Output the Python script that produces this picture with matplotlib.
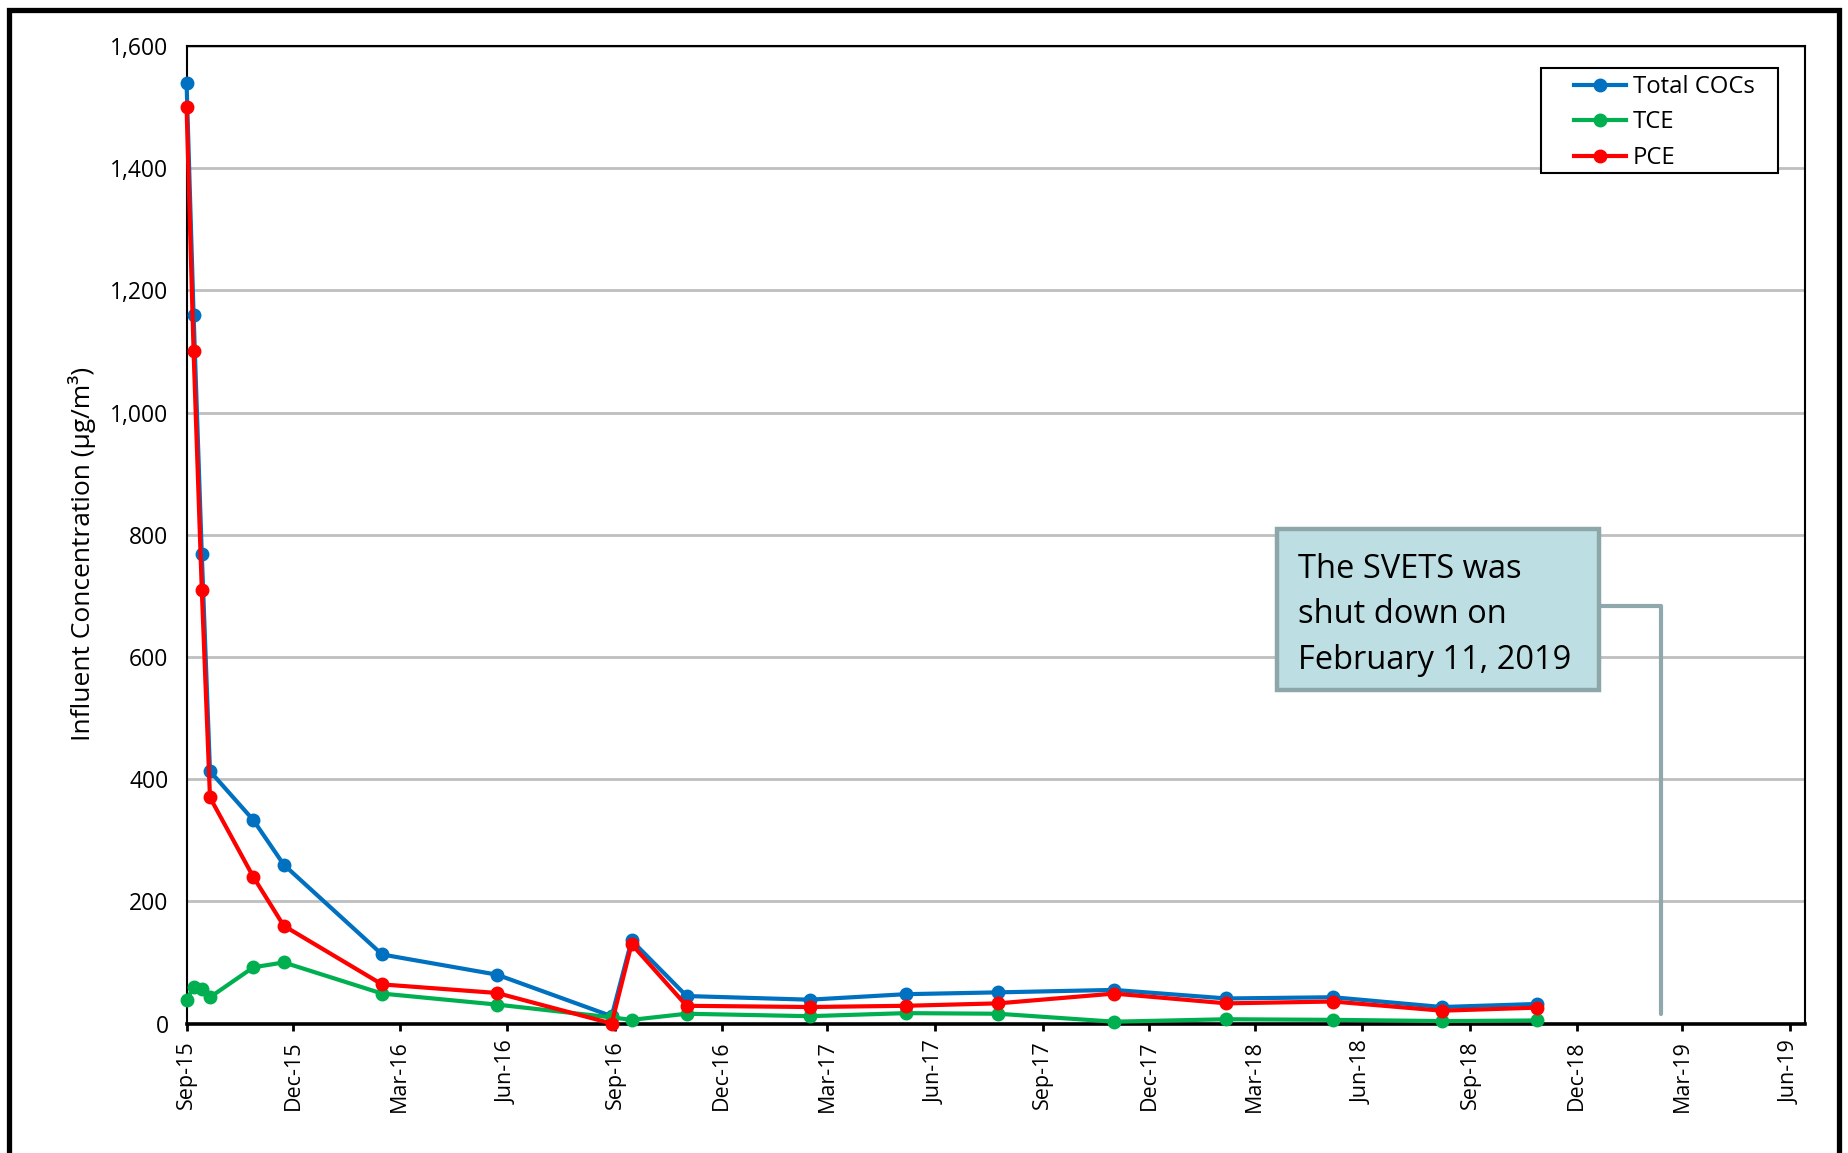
import pandas as pd
import matplotlib
matplotlib.use('Agg')
import matplotlib.pyplot as plt
import matplotlib.dates as mdates
import matplotlib.patches as patches
from matplotlib.ticker import FuncFormatter

# Influent sampling results, ug/m3
sample_dates = ['2015-09-01', '2015-09-07', '2015-09-14', '2015-09-21', '2015-10-28',
                '2015-11-23', '2016-02-15', '2016-05-23', '2016-08-29', '2016-09-15',
                '2016-11-01', '2017-02-14', '2017-05-07', '2017-07-25', '2017-11-01',
                '2018-02-05', '2018-05-07', '2018-08-08', '2018-10-28']
total_cocs = [1540, 1160, 768, 413, 333, 260, 113, 80, 12, 136, 45, 39, 48, 51, 55, 41, 43, 27, 32]
tce = [38, 60, 57, 43, 92, 100, 49, 31, 10, 6, 16, 12, 17, 16, 3, 7, 6, 4, 5]
pce = [1500, 1100, 710, 370, 240, 160, 64, 50, 0, 130, 29, 27, 29, 33, 49, 33, 36, 21, 26]

shutdown_date = '2019-02-11'
shutdown_note = 'The SVETS was\nshut down on\nFebruary 11, 2019'

plt.rcParams['font.family'] = ['Open Sans', 'DejaVu Sans']

df = pd.DataFrame({'date': pd.to_datetime(sample_dates),
                   'Total COCs': total_cocs, 'TCE': tce, 'PCE': pce})

fig = plt.figure(figsize=(18.49, 11.53), dpi=100)
ax = fig.add_axes([0.1009, 0.1123, 0.8753, 0.8478])

colors = {'Total COCs': '#0070C0', 'TCE': '#00B050', 'PCE': '#FF0000'}
for name in ['Total COCs', 'TCE', 'PCE']:
    ax.plot(df['date'], df[name], color=colors[name], lw=3, marker='o',
            markersize=9, label=name, clip_on=False, zorder=3)

ax.set_ylim(0, 1600)
ax.set_yticks(range(0, 1601, 200))
ax.yaxis.set_major_formatter(FuncFormatter(lambda v, p: f'{int(v):,}'))
ax.set_xlim(pd.Timestamp('2015-09-01'), pd.Timestamp('2019-06-14'))
ax.xaxis.set_major_locator(mdates.MonthLocator(bymonth=[3, 6, 9, 12]))
ax.xaxis.set_major_formatter(mdates.DateFormatter('%b-%y'))

ax.grid(axis='y', color='#BFBFBF', lw=2)
ax.set_axisbelow(True)
ax.tick_params(axis='y', length=0, labelsize=16.5, pad=13)
ax.tick_params(axis='x', length=5, width=2, direction='out', labelsize=15.5,
               labelrotation=90, pad=7)

for side in ['left', 'top', 'right']:
    ax.spines[side].set_linewidth(1.5)
ax.spines['bottom'].set_linewidth(2.6)

ax.set_ylabel('Influent Concentration (µg/m³)', fontsize=19)
ax.yaxis.set_label_coords(-0.056, 0.48)

# legend with its own frame so the left margin can be wider
leg = ax.legend(loc='center left', bbox_to_anchor=(0.8573, 0.9218), borderaxespad=0,
                fontsize=17.2, frameon=False, handlelength=2.16, labelspacing=0.48,
                handletextpad=0.3, borderpad=0)
leg.set_zorder(6)
ax.add_patch(patches.Rectangle((0.8369, 0.8701), 0.1464, 0.1074, transform=ax.transAxes,
                               facecolor='white', edgecolor='black', lw=1.5, zorder=5))

# shutdown callout
box = patches.Rectangle((0.6738, 0.3412), 0.1989, 0.1647, transform=ax.transAxes,
                        facecolor='#BDDFE4', edgecolor='#8DA6A9', lw=3.2, zorder=5)
ax.add_patch(box)
ax.text(0.687, 0.418, shutdown_note, transform=ax.transAxes, ha='left', va='center',
        fontsize=23.5, linespacing=1.5, zorder=6)
ax.annotate('', xy=(pd.Timestamp(shutdown_date), 16), xycoords='data',
            xytext=(0.8727, 0.4271), textcoords='axes fraction',
            arrowprops=dict(arrowstyle='-', connectionstyle='angle,angleA=0,angleB=90,rad=0',
                            shrinkA=0, shrinkB=0, lw=3, color='#8FA8AB'), zorder=4)

# outer frame
frame = patches.Rectangle((9.5 / 1849, -0.05), 1 - 19 / 1849, 1.05 - 9.5 / 1153,
                          transform=fig.transFigure, fill=False, edgecolor='black',
                          lw=3.8, clip_on=False)
fig.patches.append(frame)

fig.savefig('out.png', dpi=100)
